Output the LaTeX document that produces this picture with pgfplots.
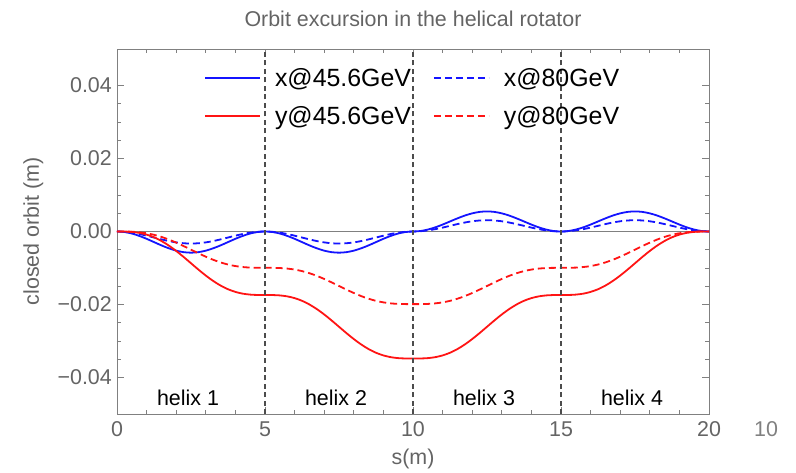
\documentclass[border=0pt]{standalone}
\usepackage{pgfplots}
\pgfplotsset{compat=1.18}
\usepackage{fontspec}
\setmainfont{Liberation Sans}
\definecolor{cblue}{RGB}{20,20,255}
\definecolor{cred}{RGB}{255,20,20}
\definecolor{labgray}{RGB}{100,100,100}
\definecolor{framegray}{RGB}{128,128,128}
\newcommand{\fs}{\fontsize{21.5}{25}\selectfont}
\begin{document}
\begin{tikzpicture}
\begin{axis}[
  name=ax,
  scale only axis,
  width=592bp, height=365bp,
  xmin=0, xmax=20, ymin=-0.05, ymax=0.05,
  clip=false,
  scaled y ticks=false,
  axis line style={framegray, line width=0.8bp},
  tick style={framegray, line width=0.8bp},
  major tick length=7bp, minor tick length=4bp,
  tick align=inside,
  xtick={0,5,10,15,20},
  minor x tick num=4,
  ytick={-0.04,-0.02,0,0.02,0.04},
  yticklabels={−0.04,−0.02,0.00,0.02,0.04},
  minor y tick num=3,
  extra y ticks={0},
  extra y tick labels={},
  extra y tick style={grid=major, major grid style={framegray, line width=0.8bp}, major tick length=0pt},
  /pgf/number format/assume math mode=true,
  xticklabel style={font=\fs, text=labgray, anchor=base, yshift=-22.7bp, inner sep=0pt},
  yticklabel style={font=\fs, text=labgray, anchor=east, xshift=-5bp, inner sep=0pt},
  every axis title shift=0pt,
  title={Orbit excursion in the helical rotator},
  title style={font=\fs, text=labgray, at={(axis description cs:0.5,1.0603)}, anchor=base, inner sep=0pt},
  xlabel={s(m)},
  xlabel style={font=\fs, text=labgray, at={(axis description cs:0.5,-0.1397)}, anchor=base, inner sep=0pt},
  ylabel={closed orbit (m)},
  ylabel style={font=\fs, text=labgray, at={(axis description cs:-0.132,0.5)}, anchor=base, inner sep=0pt},
  legend image code/.code={\draw[#1] (0bp,0bp) -- (55bp,0bp); \path (63bp,0bp);},
  legend columns=2,
  legend cell align=left,
  legend style={at={(axis cs:2.94,0.0369)}, anchor=west, draw=none, fill=none,
    inner sep=0pt, font=\fontsize{25}{29}\selectfont, row sep=6.5bp,
    nodes={inner sep=6bp},
    /tikz/every even column/.append style={column sep=16bp}},
]
\addlegendimage{draw=cblue, line width=1.8bp}
\addlegendentry{x@45.6GeV}
\addlegendimage{draw=cblue, line width=1.8bp, dash pattern=on 7bp off 4bp}
\addlegendentry{x@80GeV}
\addlegendimage{draw=cred, line width=1.8bp}
\addlegendentry{y@45.6GeV}
\addlegendimage{draw=cred, line width=1.8bp, dash pattern=on 7bp off 4bp}
\addlegendentry{y@80GeV}

% x @ 45.6 GeV
\addplot[forget plot, draw=cblue, line width=1.8bp, smooth] coordinates {
(0,0) (0.25,-0.00014) (0.5,-0.00055) (0.75,-0.00120) (1,-0.00200) (1.25,-0.00290) (1.5,-0.00380) (1.75,-0.00460) (2,-0.00525) (2.25,-0.00566) (2.5,-0.00580)
(2.75,-0.00566) (3,-0.00525) (3.25,-0.00460) (3.5,-0.00380) (3.75,-0.00290) (4,-0.00200) (4.25,-0.00120) (4.5,-0.00055) (4.75,-0.00014) (5,0)
(5.25,-0.00014) (5.5,-0.00055) (5.75,-0.00120) (6,-0.00200) (6.25,-0.00290) (6.5,-0.00380) (6.75,-0.00460) (7,-0.00525) (7.25,-0.00566) (7.5,-0.00580)
(7.75,-0.00566) (8,-0.00525) (8.25,-0.00460) (8.5,-0.00380) (8.75,-0.00290) (9,-0.00200) (9.25,-0.00120) (9.5,-0.00055) (9.75,-0.00014) (10,0)
(10.25,0.00013) (10.5,0.00053) (10.75,0.00113) (11,0.00190) (11.25,0.00275) (11.5,0.00360) (11.75,0.00437) (12,0.00497) (12.25,0.00537) (12.5,0.00550)
(12.75,0.00537) (13,0.00497) (13.25,0.00437) (13.5,0.00360) (13.75,0.00275) (14,0.00190) (14.25,0.00113) (14.5,0.00053) (14.75,0.00013) (15,0)
(15.25,0.00013) (15.5,0.00053) (15.75,0.00113) (16,0.00190) (16.25,0.00275) (16.5,0.00360) (16.75,0.00437) (17,0.00497) (17.25,0.00537) (17.5,0.00550)
(17.75,0.00537) (18,0.00497) (18.25,0.00437) (18.5,0.00360) (18.75,0.00275) (19,0.00190) (19.25,0.00113) (19.5,0.00053) (19.75,0.00013) (20,0)
};

% x @ 80 GeV
\addplot[forget plot, draw=cblue, line width=1.8bp, smooth, dash pattern=on 7bp off 4bp] coordinates {
(0,0) (0.25,-0.00008) (0.5,-0.00032) (0.75,-0.00068) (1,-0.00114) (1.25,-0.00165) (1.5,-0.00216) (1.75,-0.00262) (2,-0.00298) (2.25,-0.00322) (2.5,-0.00330)
(2.75,-0.00322) (3,-0.00298) (3.25,-0.00262) (3.5,-0.00216) (3.75,-0.00165) (4,-0.00114) (4.25,-0.00068) (4.5,-0.00032) (4.75,-0.00008) (5,0)
(5.25,-0.00008) (5.5,-0.00032) (5.75,-0.00068) (6,-0.00114) (6.25,-0.00165) (6.5,-0.00216) (6.75,-0.00262) (7,-0.00298) (7.25,-0.00322) (7.5,-0.00330)
(7.75,-0.00322) (8,-0.00298) (8.25,-0.00262) (8.5,-0.00216) (8.75,-0.00165) (9,-0.00114) (9.25,-0.00068) (9.5,-0.00032) (9.75,-0.00008) (10,0)
(10.25,0.00008) (10.5,0.00030) (10.75,0.00064) (11,0.00107) (11.25,0.00155) (11.5,0.00203) (11.75,0.00246) (12,0.00280) (12.25,0.00302) (12.5,0.00310)
(12.75,0.00302) (13,0.00280) (13.25,0.00246) (13.5,0.00203) (13.75,0.00155) (14,0.00107) (14.25,0.00064) (14.5,0.00030) (14.75,0.00008) (15,0)
(15.25,0.00008) (15.5,0.00030) (15.75,0.00064) (16,0.00107) (16.25,0.00155) (16.5,0.00203) (16.75,0.00246) (17,0.00280) (17.25,0.00302) (17.5,0.00310)
(17.75,0.00302) (18,0.00280) (18.25,0.00246) (18.5,0.00203) (18.75,0.00155) (19,0.00107) (19.25,0.00064) (19.5,0.00030) (19.75,0.00008) (20,0)
};

% y @ 45.6 GeV
\addplot[forget plot, draw=cred, line width=1.8bp, smooth] coordinates {
(0,0) (0.25,-0.00001) (0.5,-0.00011) (0.75,-0.00037) (1,-0.00085) (1.25,-0.00158) (1.5,-0.00259) (1.75,-0.00385) (2,-0.00533) (2.25,-0.00697) (2.5,-0.00870)
(2.75,-0.01043) (3,-0.01207) (3.25,-0.01355) (3.5,-0.01481) (3.75,-0.01582) (4,-0.01655) (4.25,-0.01703) (4.5,-0.01729) (4.75,-0.01739) (5,-0.01740)
(5.25,-0.01741) (5.5,-0.01751) (5.75,-0.01777) (6,-0.01825) (6.25,-0.01898) (6.5,-0.01999) (6.75,-0.02125) (7,-0.02273) (7.25,-0.02437) (7.5,-0.02610)
(7.75,-0.02783) (8,-0.02947) (8.25,-0.03095) (8.5,-0.03221) (8.75,-0.03322) (9,-0.03395) (9.25,-0.03443) (9.5,-0.03469) (9.75,-0.03479) (10,-0.03480)
(10.25,-0.03479) (10.5,-0.03469) (10.75,-0.03443) (11,-0.03395) (11.25,-0.03322) (11.5,-0.03221) (11.75,-0.03095) (12,-0.02947) (12.25,-0.02783) (12.5,-0.02610)
(12.75,-0.02437) (13,-0.02273) (13.25,-0.02125) (13.5,-0.01999) (13.75,-0.01898) (14,-0.01825) (14.25,-0.01777) (14.5,-0.01751) (14.75,-0.01741) (15,-0.01740)
(15.25,-0.01739) (15.5,-0.01729) (15.75,-0.01703) (16,-0.01655) (16.25,-0.01582) (16.5,-0.01481) (16.75,-0.01355) (17,-0.01207) (17.25,-0.01043) (17.5,-0.00870)
(17.75,-0.00697) (18,-0.00533) (18.25,-0.00385) (18.5,-0.00259) (18.75,-0.00158) (19,-0.00085) (19.25,-0.00037) (19.5,-0.00011) (19.75,-0.00001) (20,0)
};

% y @ 80 GeV
\addplot[forget plot, draw=cred, line width=1.8bp, smooth, dash pattern=on 7bp off 4bp] coordinates {
(0,0) (0.25,-0.00001) (0.5,-0.00006) (0.75,-0.00021) (1,-0.00048) (1.25,-0.00090) (1.5,-0.00148) (1.75,-0.00220) (2,-0.00305) (2.25,-0.00399) (2.5,-0.00498)
(2.75,-0.00596) (3,-0.00690) (3.25,-0.00775) (3.5,-0.00847) (3.75,-0.00905) (4,-0.00947) (4.25,-0.00974) (4.5,-0.00989) (4.75,-0.00994) (5,-0.00995)
(5.25,-0.00996) (5.5,-0.01001) (5.75,-0.01016) (6,-0.01043) (6.25,-0.01085) (6.5,-0.01143) (6.75,-0.01215) (7,-0.01300) (7.25,-0.01394) (7.5,-0.01493)
(7.75,-0.01591) (8,-0.01685) (8.25,-0.01770) (8.5,-0.01842) (8.75,-0.01900) (9,-0.01942) (9.25,-0.01969) (9.5,-0.01984) (9.75,-0.01989) (10,-0.01990)
(10.25,-0.01989) (10.5,-0.01984) (10.75,-0.01969) (11,-0.01942) (11.25,-0.01900) (11.5,-0.01842) (11.75,-0.01770) (12,-0.01685) (12.25,-0.01591) (12.5,-0.01493)
(12.75,-0.01394) (13,-0.01300) (13.25,-0.01215) (13.5,-0.01143) (13.75,-0.01085) (14,-0.01043) (14.25,-0.01016) (14.5,-0.01001) (14.75,-0.00996) (15,-0.00995)
(15.25,-0.00994) (15.5,-0.00989) (15.75,-0.00974) (16,-0.00947) (16.25,-0.00905) (16.5,-0.00847) (16.75,-0.00775) (17,-0.00690) (17.25,-0.00596) (17.5,-0.00498)
(17.75,-0.00399) (18,-0.00305) (18.25,-0.00220) (18.5,-0.00148) (18.75,-0.00090) (19,-0.00048) (19.25,-0.00021) (19.5,-0.00006) (19.75,-0.00001) (20,0)
};

% helix boundaries
\addplot[forget plot, black!70, line width=1.3bp, dash pattern=on 5bp off 3.5bp] coordinates {(5,-0.05) (5,0.05)};
\addplot[forget plot, black!70, line width=1.3bp, dash pattern=on 5bp off 3.5bp] coordinates {(10,-0.05) (10,0.05)};
\addplot[forget plot, black!70, line width=1.3bp, dash pattern=on 5bp off 3.5bp] coordinates {(15,-0.05) (15,0.05)};

\node[font=\fs, anchor=base, inner sep=0pt] at (axis cs:2.4,-0.0477) {helix 1};
\node[font=\fs, anchor=base, inner sep=0pt] at (axis cs:7.4,-0.0477) {helix 2};
\node[font=\fs, anchor=base, inner sep=0pt] at (axis cs:12.4,-0.0477) {helix 3};
\node[font=\fs, anchor=base, inner sep=0pt] at (axis cs:17.4,-0.0477) {helix 4};
\node[font=\fs, text=framegray, anchor=base, inner sep=0pt, yshift=-22.7bp] at (axis cs:21.93,-0.05) {10};
\end{axis}
\pgfresetboundingbox
\path (ax.south west) ++(-117bp,-59bp) rectangle ++(796bp,473bp);
\end{tikzpicture}
\end{document}
